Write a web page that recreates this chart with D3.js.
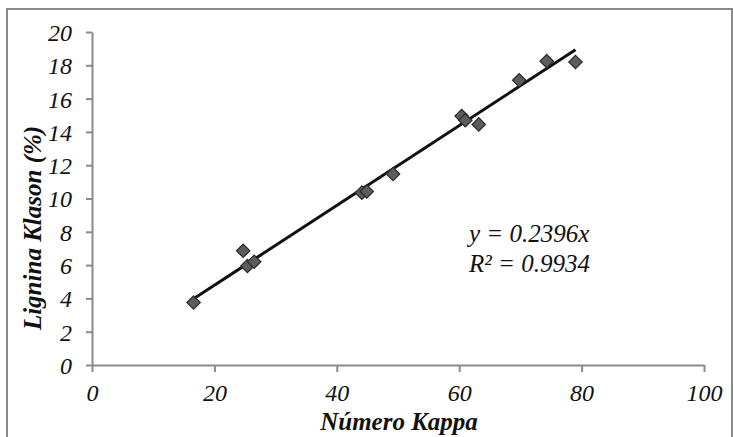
<!DOCTYPE html>
<html>
<head>
<meta charset="utf-8">
<script src="https://cdn.jsdelivr.net/npm/d3@7"></script>
<style>
  body { margin: 0; background: #fff; }
</style>
</head>
<body>
<svg id="chart" width="733" height="437"></svg>
<script>
// kappa number vs klason lignin
var kappa = [16.6, 24.7, 25.4, 26.5, 44.1, 44.9, 49.2, 60.4, 61.0, 63.2, 69.8, 74.3, 79.0];
var lignina = [3.75, 6.86, 5.95, 6.2, 10.35, 10.42, 11.47, 14.95, 14.7, 14.45, 17.1, 18.25, 18.2];
var xTicks = [0, 20, 40, 60, 80, 100];
var yTicks = [0, 2, 4, 6, 8, 10, 12, 14, 16, 18, 20];
var slope = 0.2396;
var eqLines = ['y = 0.2396x', 'R\u00b2 = 0.9934'];

var serif = '"Liberation Serif"';
var svg = d3.select('#chart');

// outer frame
svg.append('rect').attr('x', 7).attr('y', 9).attr('width', 725).attr('height', 440)
  .attr('fill', 'none').attr('stroke', '#8a8a8a').attr('stroke-width', 2);

var x = d3.scaleLinear().domain([0, 100]).range([92, 704]);
var y = d3.scaleLinear().domain([0, 20]).range([365, 32]);

var xAxis = svg.append('g').attr('transform', 'translate(0,' + y(0) + ')')
  .call(d3.axisBottom(x).tickValues(xTicks).tickSize(7).tickPadding(9).tickSizeOuter(0));
var yAxis = svg.append('g').attr('transform', 'translate(' + x(0) + ',0)')
  .call(d3.axisLeft(y).tickValues(yTicks).tickSize(6).tickPadding(14).tickSizeOuter(0));

[xAxis, yAxis].forEach(function(a) {
  a.select('.domain').attr('stroke', '#8a8a8a').attr('stroke-width', 2);
  a.selectAll('.tick line').attr('stroke', '#8a8a8a').attr('stroke-width', 2);
  a.selectAll('.tick text').style('font-family', serif).style('font-style', 'italic')
    .style('font-size', '24px').attr('fill', '#111');
});
yAxis.selectAll('.tick text').attr('dy', '0.35em');
xAxis.selectAll('.tick text').attr('dy', '0.85em');

// trend line
var xMin = d3.min(kappa), xMax = d3.max(kappa);
svg.append('line')
  .attr('x1', x(xMin)).attr('y1', y(slope * xMin))
  .attr('x2', x(xMax)).attr('y2', y(slope * xMax))
  .attr('stroke', '#111').attr('stroke-width', 3);

// diamonds
var pts = kappa.map(function(k, i) { return [k, lignina[i]]; });
svg.selectAll('.pt').data(pts).enter().append('path')
  .attr('class', 'pt')
  .attr('d', d3.symbol().type(d3.symbolSquare).size(90))
  .attr('transform', function(d) { return 'translate(' + x(d[0]) + ',' + y(d[1]) + ') rotate(45)'; })
  .attr('fill', '#5c5c5c').attr('stroke', '#2a2a2a').attr('stroke-width', 1.2);

// equation
svg.selectAll('.eq').data(eqLines).enter().append('text')
  .attr('class', 'eq')
  .attr('x', 469).attr('y', function(d, i) { return 242 + i * 30; })
  .style('font-family', serif).style('font-style', 'italic').style('font-size', '25px')
  .attr('fill', '#111')
  .text(function(d) { return d; });

// axis titles
svg.append('text').attr('x', 399).attr('y', 430).attr('text-anchor', 'middle')
  .style('font-family', serif).style('font-style', 'italic').style('font-weight', 'bold')
  .style('font-size', '25px').attr('fill', '#111').text('N\u00famero Kappa');
svg.append('text').attr('transform', 'translate(41,228) rotate(-90)').attr('text-anchor', 'middle')
  .style('font-family', serif).style('font-style', 'italic').style('font-weight', 'bold')
  .style('font-size', '25px').attr('fill', '#111').text('Lignina Klason (%)');
</script>
</body>
</html>
